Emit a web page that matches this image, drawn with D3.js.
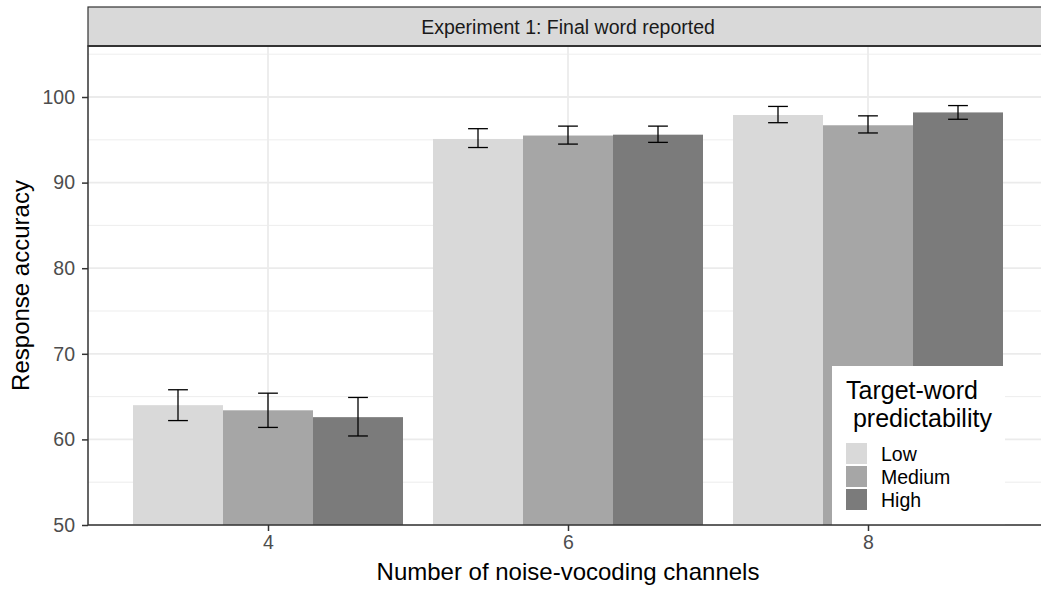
<!DOCTYPE html>
<html>
<head>
<meta charset="utf-8">
<script src="https://cdn.jsdelivr.net/npm/d3@7"></script>
<style>
  html, body { margin: 0; padding: 0; background: #fff; }
  svg { display: block; font-family: "Liberation Sans", Arial, Helvetica, sans-serif; }
</style>
</head>
<body>
<svg id="chart" width="1041" height="589"></svg>
<script>
// ---- data ----
const channels = ["4", "6", "8"];
const levels = ["Low", "Medium", "High"];
const meanLow = [64.0, 95.1, 97.9];
const meanMedium = [63.4, 95.5, 96.7];
const meanHigh = [62.6, 95.6, 98.2];
const lowerLow = [62.2, 94.1, 97.0];
const lowerMedium = [61.4, 94.5, 95.8];
const lowerHigh = [60.4, 94.7, 97.4];
const upperLow = [65.8, 96.3, 98.9];
const upperMedium = [65.4, 96.6, 97.8];
const upperHigh = [64.9, 96.6, 99.0];
const yTicks = [50, 60, 70, 80, 90, 100];
const yMinorTicks = [55, 65, 75, 85, 95, 105];
const stripTitle = "Experiment 1: Final word reported";
const xTitle = "Number of noise-vocoding channels";
const yTitle = "Response accuracy";
const legendTitle = ["Target-word", " predictability"];

const series = {
  Low: { mean: meanLow, lower: lowerLow, upper: upperLow },
  Medium: { mean: meanMedium, lower: lowerMedium, upper: upperMedium },
  High: { mean: meanHigh, lower: lowerHigh, upper: upperHigh }
};
const rows = [];
channels.forEach((c, i) => levels.forEach(l => rows.push({
  channel: c, level: l, mean: series[l].mean[i], lower: series[l].lower[i], upper: series[l].upper[i]
})));

// ---- layout ----
const panel = { left: 88, right: 1048, top: 46, bottom: 525 };
const svg = d3.select("#chart");

const x = d3.scalePoint().domain(channels).range([panel.left, panel.right]).padding(0.6);
const step = x.step();
const x1 = d3.scaleBand().domain(levels).range([-0.45 * step, 0.45 * step]);
const y = d3.scaleLinear().domain([50, 105.96]).range([panel.bottom, panel.top]);
const fill = d3.scaleOrdinal().domain(levels).range(["#D9D9D9", "#A6A6A6", "#7B7B7B"]);

// panel background
svg.append("rect").attr("x", panel.left).attr("y", panel.top)
  .attr("width", panel.right - panel.left).attr("height", panel.bottom - panel.top).attr("fill", "#fff");

// grid
const grid = svg.append("g");
grid.selectAll("line.minor").data(yMinorTicks).join("line")
  .attr("x1", panel.left).attr("x2", panel.right)
  .attr("y1", d => y(d)).attr("y2", d => y(d))
  .attr("stroke", "#EBEBEB").attr("stroke-width", 0.9);
grid.selectAll("line.major").data(yTicks).join("line")
  .attr("x1", panel.left).attr("x2", panel.right)
  .attr("y1", d => y(d)).attr("y2", d => y(d))
  .attr("stroke", "#EBEBEB").attr("stroke-width", 1.8);
grid.selectAll("line.vmajor").data(channels).join("line")
  .attr("x1", d => x(d)).attr("x2", d => x(d))
  .attr("y1", panel.top).attr("y2", panel.bottom)
  .attr("stroke", "#EBEBEB").attr("stroke-width", 1.8);

// bars
svg.append("g").selectAll("rect").data(rows).join("rect")
  .attr("x", d => x(d.channel) + x1(d.level))
  .attr("width", x1.bandwidth())
  .attr("y", d => y(d.mean))
  .attr("height", d => y(50) - y(d.mean))
  .attr("fill", d => fill(d.level));

// error bars
const capW = x1.bandwidth() * 0.2 * 1.1;
const eb = svg.append("g").attr("stroke", "#000").attr("stroke-width", 1.3).attr("fill", "none");
rows.forEach(d => {
  const cx = x(d.channel) + x1(d.level) + x1.bandwidth() / 2;
  eb.append("line").attr("x1", cx).attr("x2", cx).attr("y1", y(d.lower)).attr("y2", y(d.upper));
  eb.append("line").attr("x1", cx - capW / 2).attr("x2", cx + capW / 2).attr("y1", y(d.lower)).attr("y2", y(d.lower));
  eb.append("line").attr("x1", cx - capW / 2).attr("x2", cx + capW / 2).attr("y1", y(d.upper)).attr("y2", y(d.upper));
});

// legend (inside panel)
const lg = svg.append("g");
lg.append("rect").attr("x", 832).attr("y", 366).attr("width", 173).attr("height", 159).attr("fill", "#fff");
legendTitle.forEach((t, i) => {
  lg.append("text").attr("x", 846).attr("y", 399 + i * 28).attr("font-size", 25)
    .attr("fill", "#000").style("white-space", "pre").text(t);
});
levels.forEach((l, i) => {
  lg.append("rect").attr("x", 846).attr("y", 443 + i * 23).attr("width", 21).attr("height", 21)
    .attr("fill", fill(l));
  lg.append("text").attr("x", 881).attr("y", 453.5 + i * 23).attr("dominant-baseline", "central")
    .attr("font-size", 19.5).attr("fill", "#000").text(l);
});

// panel border
svg.append("rect").attr("x", panel.left).attr("y", panel.top)
  .attr("width", panel.right - panel.left).attr("height", panel.bottom - panel.top)
  .attr("fill", "none").attr("stroke", "#333333").attr("stroke-width", 1.5);

// strip
svg.append("rect").attr("x", panel.left).attr("y", 7)
  .attr("width", panel.right - panel.left).attr("height", panel.top - 7)
  .attr("fill", "#D9D9D9").attr("stroke", "#333333").attr("stroke-width", 1.2);
svg.append("line").attr("x1", panel.left).attr("x2", panel.right)
  .attr("y1", panel.top).attr("y2", panel.top).attr("stroke", "#333333").attr("stroke-width", 2);
svg.append("text").attr("x", (panel.left + panel.right) / 2).attr("y", 27)
  .attr("text-anchor", "middle").attr("dominant-baseline", "central")
  .attr("font-size", 19.5).attr("fill", "#1A1A1A").text(stripTitle);

// axes
const yAxis = d3.axisLeft(y).tickValues(yTicks).tickSize(6).tickPadding(7);
const gy = svg.append("g").attr("transform", `translate(${panel.left},0)`).call(yAxis);
gy.select(".domain").remove();
gy.selectAll(".tick line").attr("stroke", "#333333").attr("stroke-width", 1.5);
gy.selectAll(".tick text").attr("font-size", 19.5).attr("fill", "#4D4D4D")
  .attr("font-family", "Liberation Sans, Arial, sans-serif");

const xAxis = d3.axisBottom(x).tickSize(6).tickPadding(4);
const gx = svg.append("g").attr("transform", `translate(0,${panel.bottom})`).call(xAxis);
gx.select(".domain").remove();
gx.selectAll(".tick line").attr("stroke", "#333333").attr("stroke-width", 1.5);
gx.selectAll(".tick text").attr("font-size", 19.5).attr("fill", "#4D4D4D")
  .attr("font-family", "Liberation Sans, Arial, sans-serif");

// axis titles
svg.append("text").attr("x", (panel.left + panel.right) / 2).attr("y", 580)
  .attr("text-anchor", "middle").attr("font-size", 24).attr("fill", "#000").text(xTitle);
svg.append("text").attr("transform", `translate(29,${(panel.top + panel.bottom) / 2}) rotate(-90)`)
  .attr("text-anchor", "middle").attr("font-size", 24).attr("fill", "#000").text(yTitle);
</script>
</body>
</html>
